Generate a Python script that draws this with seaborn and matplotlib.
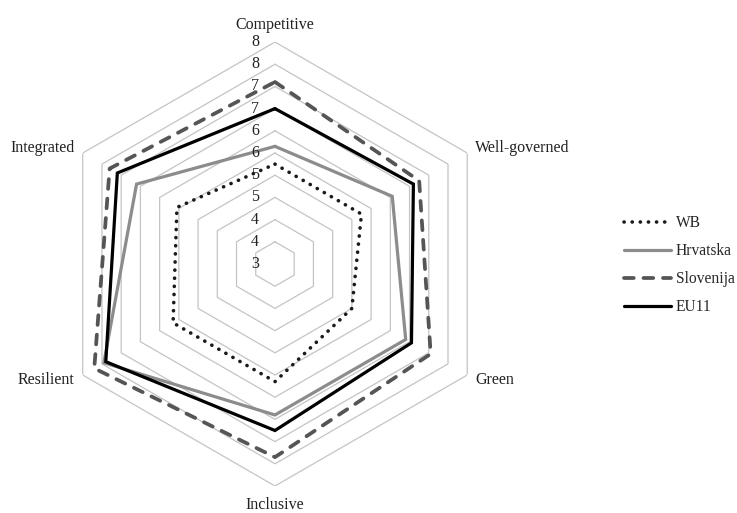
import numpy as np
import pandas as pd
import matplotlib
matplotlib.use("Agg")
import matplotlib.pyplot as plt
from matplotlib.transforms import offset_copy
import seaborn as sns

# Axes of the radar, clockwise from the top
categories = ['Competitive', 'Well-governed', 'Green', 'Inclusive', 'Resilient', 'Integrated']

# Values
wb = [5.25, 5.25, 5.0, 5.65, 5.65, 5.55]
hrvatska = [5.65, 6.05, 6.4, 6.4, 7.45, 6.6]
slovenija = [7.1, 6.75, 7.05, 7.35, 7.7, 7.3]
eu11 = [6.5, 6.6, 6.55, 6.75, 7.4, 7.1]

# Radial scale (Excel shows 0.5 steps rounded to whole numbers)
ring_values = [3.5, 4, 4.5, 5, 5.5, 6, 6.5, 7, 7.5, 8]
tick_values = [3, 3.5, 4, 4.5, 5, 5.5, 6, 6.5, 7, 7.5, 8]
tick_labels = ['3', '4', '4', '5', '5', '6', '6', '7', '7', '8', '8']

sns.set_style('white')
plt.rcParams['font.family'] = ['Liberation Serif', 'DejaVu Serif']

n = len(categories)
angles = np.linspace(0, 2 * np.pi, n, endpoint=False)
closed_angles = np.append(angles, 2 * np.pi)

fig = plt.figure(figsize=(7.37, 5.13), dpi=100)
ax = fig.add_axes([0.0719, 0.0526, 0.6024, 0.8655], projection='polar')
ax.set_theta_offset(np.pi / 2)
ax.set_theta_direction(-1)
ax.set_ylim(3, 8)
ax.grid(False)
ax.spines['polar'].set_visible(False)
ax.set_xticks([])
ax.set_yticks([])

# hexagonal grid rings
for r in ring_values:
    ax.plot(closed_angles, [r] * (n + 1), color='#c4c4c4', lw=0.9, zorder=1)

series = [
    ('WB', wb, '#1a1a1a', (0, (0.05, 2.2)), 2.6),
    ('Hrvatska', hrvatska, '#8c8c8c', '-', 2.3),
    ('Slovenija', slovenija, '#555555', (0, (2.6, 2.6)), 2.7),
    ('EU11', eu11, '#000000', '-', 2.3),
]

for name, vals, color, ls, lw in series:
    df = pd.DataFrame({'theta': closed_angles, 'r': list(vals) + [vals[0]]})
    sns.lineplot(data=df, x='theta', y='r', ax=ax, sort=False, color=color,
                 linestyle=ls, lw=lw, label=name, dash_capstyle='round',
                 solid_joinstyle='miter', zorder=3)

ax.set_xlabel('')
ax.set_ylabel('')

# radial tick labels along the top axis
tick_tr = offset_copy(ax.transData, fig=fig, x=-20, y=0, units='dots')
for v, lbl in zip(tick_values, tick_labels):
    ax.text(0, v, lbl, transform=tick_tr, ha='center', va='center',
            fontsize=11.5, color='#222222')

# category labels
label_pos = [
    (0, 17, 'center', 'center'),
    (8, 5, 'left', 'center'),
    (8, -5, 'left', 'center'),
    (0, -19, 'center', 'center'),
    (-8, -5, 'right', 'center'),
    (-8, 5, 'right', 'center'),
]
for a, cat, (dx, dy, ha, va) in zip(angles, categories, label_pos):
    tr = offset_copy(ax.transData, fig=fig, x=dx, y=dy, units='dots')
    ax.text(a, 8, cat, transform=tr, ha=ha, va=va, fontsize=11.5, color='#222222')

ax.legend(loc='center left', bbox_to_anchor=(0.828, 0.483),
          bbox_transform=fig.transFigure, frameon=False, fontsize=11.2,
          handlelength=3.0, handletextpad=0.3, labelspacing=0.78)

fig.savefig('out.png', dpi=100)
